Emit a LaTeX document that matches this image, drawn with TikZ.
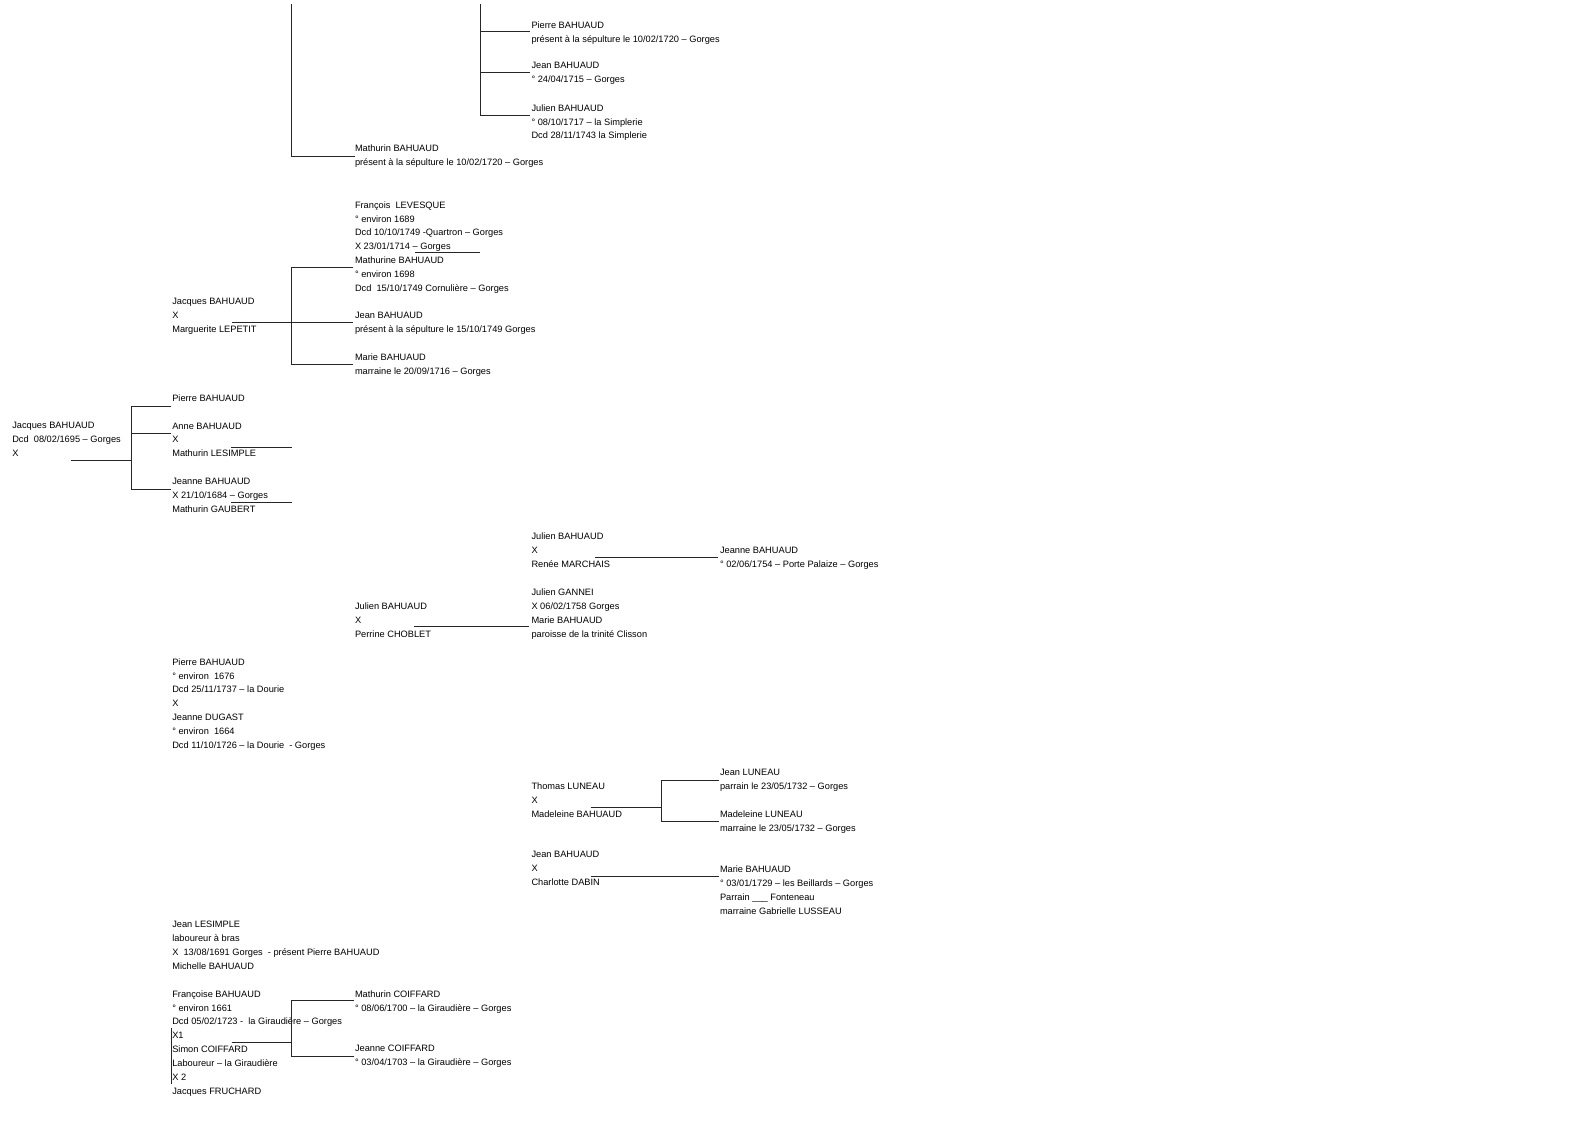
\documentclass[tikz,border=0pt]{standalone}
\usepackage{fontspec}
\setmainfont{Liberation Sans}
\begin{document}
\begin{tikzpicture}[x=1pt,y=-1pt,
  txt/.style={anchor=north west, inner sep=0pt, outer sep=0pt, align=left,
    font=\fontsize{9.25}{13.87}\selectfont, execute at begin node=\strut},
  link/.style={draw=black!85, line width=1pt}]
\useasboundingbox[fill=white] (0,0) rectangle (1588,1123);

% ---------- text blocks ----------
\node[txt] (b1) at (531.5,22) {Pierre BAHUAUD\\présent à la sépulture le 10/02/1720 – Gorges};
\node[txt] (b2) at (531.5,62.5) {Jean BAHUAUD\\° 24/04/1715 – Gorges};
\node[txt] (b3) at (531.5,104.5) {Julien BAHUAUD\\° 08/10/1717 – la Simplerie\\Dcd 28/11/1743 la Simplerie};
\node[txt] (b4) at (355,145) {Mathurin BAHUAUD\\présent à la sépulture le 10/02/1720 – Gorges};
\node[txt] (b5) at (355,201.5) {François\ \ LEVESQUE\\° environ 1689\\Dcd 10/10/1749 -Quartron – Gorges\\X 23/01/1714 – Gorges\\Mathurine BAHUAUD\\° environ 1698\\Dcd\ \ 15/10/1749 Cornulière – Gorges};
\node[txt] (b6) at (172.3,298) {Jacques BAHUAUD\\X\\Marguerite LEPETIT};
\node[txt] (b7) at (355,312) {Jean BAHUAUD\\présent à la sépulture le 15/10/1749 Gorges};
\node[txt] (b8) at (355,353.7) {Marie BAHUAUD\\marraine le 20/09/1716 – Gorges};
\node[txt] (b9) at (172.3,391.3) {Pierre BAHUAUD};
\node[txt] (b10) at (12.3,422.3) {Jacques BAHUAUD\\Dcd\ \ 08/02/1695 – Gorges\\X};
\node[txt] (b11) at (172.3,422.7) {Anne BAHUAUD\\X\\Mathurin LESIMPLE};
\node[txt] (b12) at (172.3,478.5) {Jeanne BAHUAUD\\X 21/10/1684 – Gorges\\Mathurin GAUBERT};
\node[txt] (b13) at (531.5,533) {Julien BAHUAUD\\X\\Renée MARCHAIS};
\node[txt] (b14) at (720,547) {Jeanne BAHUAUD\\° 02/06/1754 – Porte Palaize – Gorges};
\node[txt] (b15) at (531.5,588.7) {Julien GANNEI\\X 06/02/1758 Gorges\\Marie BAHUAUD\\paroisse de la trinité Clisson};
\node[txt] (b16) at (355,602.7) {Julien BAHUAUD\\X\\Perrine CHOBLET};
\node[txt] (b17) at (172.3,658.5) {Pierre BAHUAUD\\° environ\ \ 1676\\Dcd 25/11/1737 – la Dourie\\X\\Jeanne DUGAST\\° environ\ \ 1664\\Dcd 11/10/1726 – la Dourie\ \ - Gorges};
\node[txt] (b18) at (720,768.8) {Jean LUNEAU\\parrain le 23/05/1732 – Gorges};
\node[txt] (b19) at (531.5,782.7) {Thomas LUNEAU\\X\\Madeleine BAHUAUD};
\node[txt] (b20) at (720,810.5) {Madeleine LUNEAU\\marraine le 23/05/1732 – Gorges};
\node[txt] (b21) at (531.5,851.5) {Jean BAHUAUD\\X\\Charlotte DABIN};
\node[txt] (b22) at (720,866) {Marie BAHUAUD\\° 03/01/1729 – les Beillards – Gorges\\Parrain \_\_\_ Fonteneau\\marraine Gabrielle LUSSEAU};
\node[txt] (b23) at (172.3,921.5) {Jean LESIMPLE\\laboureur à bras\\X\ \ 13/08/1691 Gorges\ \ - présent Pierre BAHUAUD\\Michelle BAHUAUD};
\node[txt] (b24) at (172.3,990.5) {Françoise BAHUAUD\\° environ 1661\\Dcd 05/02/1723 -\ \ la Giraudière – Gorges\\X1\\Simon COIFFARD\\Laboureur – la Giraudière\\X 2\\Jacques FRUCHARD};
\node[txt] (b25) at (355,990.5) {Mathurin COIFFARD\\° 08/06/1700 – la Giraudière – Gorges};
\node[txt] (b26) at (355,1045.3) {Jeanne COIFFARD\\° 03/04/1703 – la Giraudière – Gorges};

% ---------- connector coordinates ----------
\coordinate (t1) at (291.7,4);
\coordinate (e4) at (355,156.7);
\coordinate (t2) at (480,4);
\coordinate (j2) at (480,115.3);
\coordinate (e1) at (530,32);
\coordinate (e2) at (530,73);
\coordinate (e3) at (530,115.3);
\coordinate (u5a) at (415,252.7);
\coordinate (u5b) at (480,252.7);
\coordinate (s6) at (231.7,322.7);
\coordinate (e5) at (353.3,267.3);
\coordinate (e7) at (353.3,322.7);
\coordinate (e8) at (353.3,364);
\coordinate (v6t) at (291.7,267.3);
\coordinate (v6b) at (291.7,364);
\coordinate (s10) at (70.7,460.7);
\coordinate (v10m) at (131.7,460.7);
\coordinate (v10t) at (131.7,406);
\coordinate (v10b) at (131.7,489);
\coordinate (e9) at (171,406);
\coordinate (e11) at (171,433.3);
\coordinate (e12) at (171,489);
\coordinate (u11a) at (231,447.7);
\coordinate (u11b) at (291.7,447.7);
\coordinate (u12a) at (231,502.7);
\coordinate (u12b) at (291.7,502.7);
\coordinate (s13) at (595,557.7);
\coordinate (e14) at (718.3,557.7);
\coordinate (s16) at (414,626.7);
\coordinate (e15) at (529.3,626.7);
\coordinate (s19) at (590.7,807.3);
\coordinate (v19m) at (661.7,807.3);
\coordinate (v19t) at (661.7,780);
\coordinate (v19b) at (661.7,821);
\coordinate (e18) at (719,780);
\coordinate (e20) at (719,821);
\coordinate (s21) at (590.7,876);
\coordinate (e22) at (719,876);
\coordinate (k1) at (171,1028.3);
\coordinate (k2) at (171,1084);
\coordinate (s24) at (231.7,1042.7);
\coordinate (v24m) at (291.7,1042.7);
\coordinate (v24t) at (291.7,1000.7);
\coordinate (v24b) at (291.7,1056);
\coordinate (e25) at (354.3,1000.7);
\coordinate (e26) at (354.3,1056);

% ---------- connectors ----------
\draw[link] (t1) |- (e4);
\draw[link] (t2) -- (j2);
\draw[link] (t2 |- e1) -- (e1);
\draw[link] (t2 |- e2) -- (e2);
\draw[link] (j2) -- (e3);
\draw[link] (u5a) -- (u5b);
\draw[link] (e5) -| (v6b) -- (e8);
\draw[link] (s6) -- (e7);
\draw[link] (s10) -- (v10m);
\draw[link] (e9) -| (v10b) -- (e12);
\draw[link] (v10t |- e11) -- (e11);
\draw[link] (u11a) -- (u11b);
\draw[link] (u12a) -- (u12b);
\draw[link] (s13) -- (e14);
\draw[link] (s16) -- (e15);
\draw[link] (s19) -- (v19m);
\draw[link] (e18) -| (v19b) -- (e20);
\draw[link] (s21) -- (e22);
\draw[link] (k1) -- (k2);
\draw[link] (s24) -- (v24m);
\draw[link] (e25) -| (v24b) -- (e26);
\end{tikzpicture}
\end{document}
